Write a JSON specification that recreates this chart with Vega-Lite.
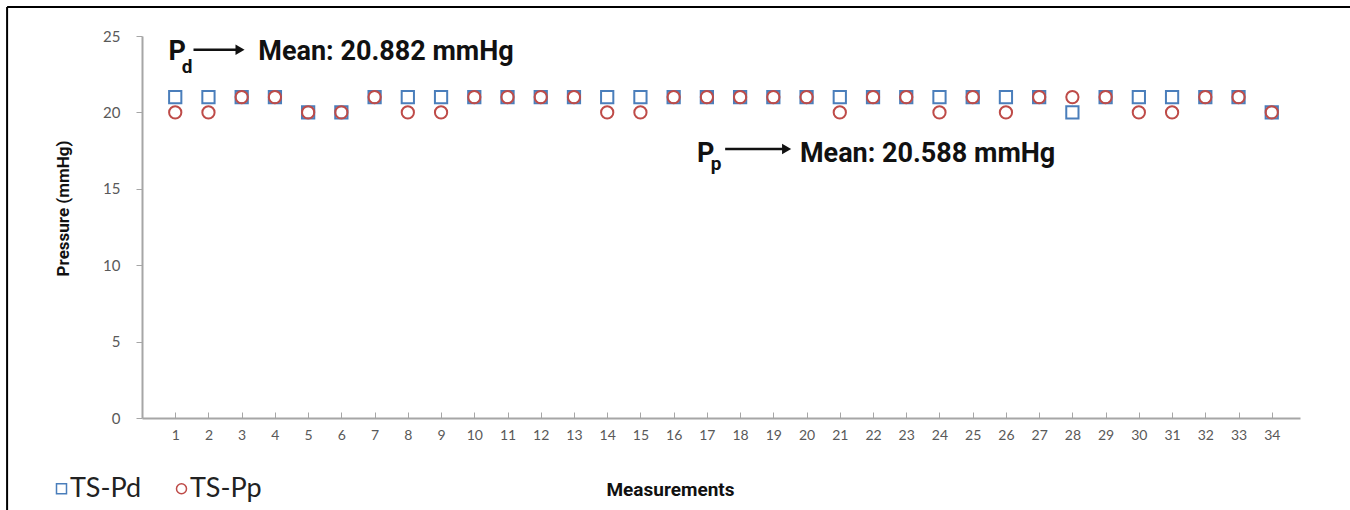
{
  "$schema": "https://vega.github.io/schema/vega-lite/v6.json",
  "width": 1158,
  "height": 382,
  "autosize": "none",
  "padding": {"left": 142, "top": 36, "right": 50, "bottom": 92},
  "background": "white",
  "config": {"view": {"stroke": null}, "axis": {"labelOverlap": false}},
  "layer": [
    {
      "data": {
        "values": [
          {"m": 1, "series": "TS-Pd", "v": 21}, {"m": 2, "series": "TS-Pd", "v": 21}, {"m": 3, "series": "TS-Pd", "v": 21}, {"m": 4, "series": "TS-Pd", "v": 21},
          {"m": 5, "series": "TS-Pd", "v": 20}, {"m": 6, "series": "TS-Pd", "v": 20}, {"m": 7, "series": "TS-Pd", "v": 21}, {"m": 8, "series": "TS-Pd", "v": 21},
          {"m": 9, "series": "TS-Pd", "v": 21}, {"m": 10, "series": "TS-Pd", "v": 21}, {"m": 11, "series": "TS-Pd", "v": 21}, {"m": 12, "series": "TS-Pd", "v": 21},
          {"m": 13, "series": "TS-Pd", "v": 21}, {"m": 14, "series": "TS-Pd", "v": 21}, {"m": 15, "series": "TS-Pd", "v": 21}, {"m": 16, "series": "TS-Pd", "v": 21},
          {"m": 17, "series": "TS-Pd", "v": 21}, {"m": 18, "series": "TS-Pd", "v": 21}, {"m": 19, "series": "TS-Pd", "v": 21}, {"m": 20, "series": "TS-Pd", "v": 21},
          {"m": 21, "series": "TS-Pd", "v": 21}, {"m": 22, "series": "TS-Pd", "v": 21}, {"m": 23, "series": "TS-Pd", "v": 21}, {"m": 24, "series": "TS-Pd", "v": 21},
          {"m": 25, "series": "TS-Pd", "v": 21}, {"m": 26, "series": "TS-Pd", "v": 21}, {"m": 27, "series": "TS-Pd", "v": 21}, {"m": 28, "series": "TS-Pd", "v": 20},
          {"m": 29, "series": "TS-Pd", "v": 21}, {"m": 30, "series": "TS-Pd", "v": 21}, {"m": 31, "series": "TS-Pd", "v": 21}, {"m": 32, "series": "TS-Pd", "v": 21},
          {"m": 33, "series": "TS-Pd", "v": 21}, {"m": 34, "series": "TS-Pd", "v": 20},
          {"m": 1, "series": "TS-Pp", "v": 20}, {"m": 2, "series": "TS-Pp", "v": 20}, {"m": 3, "series": "TS-Pp", "v": 21}, {"m": 4, "series": "TS-Pp", "v": 21},
          {"m": 5, "series": "TS-Pp", "v": 20}, {"m": 6, "series": "TS-Pp", "v": 20}, {"m": 7, "series": "TS-Pp", "v": 21}, {"m": 8, "series": "TS-Pp", "v": 20},
          {"m": 9, "series": "TS-Pp", "v": 20}, {"m": 10, "series": "TS-Pp", "v": 21}, {"m": 11, "series": "TS-Pp", "v": 21}, {"m": 12, "series": "TS-Pp", "v": 21},
          {"m": 13, "series": "TS-Pp", "v": 21}, {"m": 14, "series": "TS-Pp", "v": 20}, {"m": 15, "series": "TS-Pp", "v": 20}, {"m": 16, "series": "TS-Pp", "v": 21},
          {"m": 17, "series": "TS-Pp", "v": 21}, {"m": 18, "series": "TS-Pp", "v": 21}, {"m": 19, "series": "TS-Pp", "v": 21}, {"m": 20, "series": "TS-Pp", "v": 21},
          {"m": 21, "series": "TS-Pp", "v": 20}, {"m": 22, "series": "TS-Pp", "v": 21}, {"m": 23, "series": "TS-Pp", "v": 21}, {"m": 24, "series": "TS-Pp", "v": 20},
          {"m": 25, "series": "TS-Pp", "v": 21}, {"m": 26, "series": "TS-Pp", "v": 20}, {"m": 27, "series": "TS-Pp", "v": 21}, {"m": 28, "series": "TS-Pp", "v": 21},
          {"m": 29, "series": "TS-Pp", "v": 21}, {"m": 30, "series": "TS-Pp", "v": 20}, {"m": 31, "series": "TS-Pp", "v": 20}, {"m": 32, "series": "TS-Pp", "v": 21},
          {"m": 33, "series": "TS-Pp", "v": 21}, {"m": 34, "series": "TS-Pp", "v": 20}
        ]
      },
      "mark": {"type": "point", "filled": false, "strokeWidth": 2, "size": 150, "opacity": 1},
      "encoding": {
        "x": {
          "field": "m", "type": "quantitative",
          "scale": {"domain": [0, 34.85], "nice": false, "zero": false},
          "axis": {
            "values": [1,2,3,4,5,6,7,8,9,10,11,12,13,14,15,16,17,18,19,20,21,22,23,24,25,26,27,28,29,30,31,32,33,34],
            "tickCount": 60,
            "format": "d", "grid": false, "labelOverlap": false,
            "domainColor": "#a6a6a6", "domainWidth": 2,
            "tickColor": "#a6a6a6", "tickSize": -6, "tickWidth": 1,
            "labelFont": "Lato", "labelFontSize": 14, "labelColor": "#595959", "labelPadding": 16,
            "title": "Measurements", "titleFont": "Liberation Sans Narrow, Roboto", "titleFontWeight": "bold",
            "titleFontSize": 19, "titleColor": "#111", "titleX": 528, "titleY": 77, "titleAnchor": null, "titleAlign": "center", "titleBaseline": "alphabetic"
          }
        },
        "y": {
          "field": "v", "type": "quantitative",
          "scale": {"domain": [0, 25], "nice": false},
          "axis": {
            "values": [0, 5, 10, 15, 20, 25], "grid": false,
            "domainColor": "#a6a6a6", "domainWidth": 2,
            "tickColor": "#a6a6a6", "tickSize": 6, "tickWidth": 1,
            "labelFont": "Lato", "labelFontSize": 15, "labelColor": "#595959", "labelPadding": 16,
            "title": "Pressure (mmHg)", "titleFont": "Liberation Sans Narrow, Roboto", "titleFontWeight": "bold",
            "titleFontSize": 17, "titleColor": "#111", "titleX": -74, "titleY": 172, "titleAngle": -90, "titleAlign": "center", "titleBaseline": "alphabetic"
          }
        },
        "color": {
          "field": "series", "type": "nominal",
          "scale": {"domain": ["TS-Pd", "TS-Pp"], "range": ["#4a7ebb", "#be4b48"]},
          "legend": {
            "title": null, "orient": "none", "legendX": -94, "legendY": 439, "direction": "horizontal",
            "labelFont": "Lato", "labelFontSize": 27, "labelColor": "#222", "symbolSize": 100, "symbolStrokeWidth": 1.5,
            "columnPadding": 26, "labelOffset": -5
          }
        },
        "shape": {
          "field": "series", "type": "nominal",
          "scale": {"domain": ["TS-Pd", "TS-Pp"], "range": ["square", "circle"]}
        }
      }
    },
    {
      "data": {"values": [{}]},
      "mark": {"type": "text", "font": "Liberation Sans Narrow, Roboto", "fontWeight": "bold", "fontSize": 27, "align": "left", "baseline": "alphabetic", "color": "#111", "text": "P"},
      "encoding": {"x": {"datum": 0.8, "type": "quantitative"}, "y": {"datum": 23.4, "type": "quantitative"}}
    },
    {
      "data": {"values": [{}]},
      "mark": {"type": "text", "font": "Liberation Sans Narrow, Roboto", "fontWeight": "bold", "fontSize": 19, "align": "left", "baseline": "alphabetic", "color": "#111", "text": "d"},
      "encoding": {"x": {"datum": 1.2, "type": "quantitative"}, "y": {"datum": 22.55, "type": "quantitative"}}
    },
    {
      "data": {"values": [{}]},
      "mark": {"type": "rule", "strokeWidth": 2.5, "color": "#111"},
      "encoding": {"x": {"datum": 1.55, "type": "quantitative"}, "x2": {"datum": 2.95}, "y": {"datum": 24.1, "type": "quantitative"}}
    },
    {
      "data": {"values": [{}]},
      "mark": {"type": "point", "shape": "triangle-right", "filled": true, "size": 110, "color": "#111", "opacity": 1},
      "encoding": {"x": {"datum": 2.95, "type": "quantitative"}, "y": {"datum": 24.1, "type": "quantitative"}}
    },
    {
      "data": {"values": [{}]},
      "mark": {"type": "text", "font": "Liberation Sans Narrow, Roboto", "fontWeight": "bold", "fontSize": 27, "align": "left", "baseline": "alphabetic", "color": "#111", "text": "Mean: 20.882 mmHg"},
      "encoding": {"x": {"datum": 3.5, "type": "quantitative"}, "y": {"datum": 23.4, "type": "quantitative"}}
    },
    {
      "data": {"values": [{}]},
      "mark": {"type": "text", "font": "Liberation Sans Narrow, Roboto", "fontWeight": "bold", "fontSize": 27, "align": "left", "baseline": "alphabetic", "color": "#111", "text": "P"},
      "encoding": {"x": {"datum": 16.7, "type": "quantitative"}, "y": {"datum": 16.75, "type": "quantitative"}}
    },
    {
      "data": {"values": [{}]},
      "mark": {"type": "text", "font": "Liberation Sans Narrow, Roboto", "fontWeight": "bold", "fontSize": 19, "align": "left", "baseline": "alphabetic", "color": "#111", "text": "p"},
      "encoding": {"x": {"datum": 17.12, "type": "quantitative"}, "y": {"datum": 16.25, "type": "quantitative"}}
    },
    {
      "data": {"values": [{}]},
      "mark": {"type": "rule", "strokeWidth": 2.5, "color": "#111"},
      "encoding": {"x": {"datum": 17.55, "type": "quantitative"}, "x2": {"datum": 19.4}, "y": {"datum": 17.6, "type": "quantitative"}}
    },
    {
      "data": {"values": [{}]},
      "mark": {"type": "point", "shape": "triangle-right", "filled": true, "size": 110, "color": "#111", "opacity": 1},
      "encoding": {"x": {"datum": 19.4, "type": "quantitative"}, "y": {"datum": 17.6, "type": "quantitative"}}
    },
    {
      "data": {"values": [{}]},
      "mark": {"type": "text", "font": "Liberation Sans Narrow, Roboto", "fontWeight": "bold", "fontSize": 27, "align": "left", "baseline": "alphabetic", "color": "#111", "text": "Mean: 20.588 mmHg"},
      "encoding": {"x": {"datum": 19.8, "type": "quantitative"}, "y": {"datum": 16.75, "type": "quantitative"}}
    },
    {
      "data": {"values": [{}]},
      "mark": {"type": "rule", "strokeWidth": 2, "color": "#000"},
      "encoding": {"x": {"datum": -4.06, "type": "quantitative"}, "x2": {"datum": 36.4}, "y": {"datum": 26.9, "type": "quantitative"}}
    },
    {
      "data": {"values": [{}]},
      "mark": {"type": "rule", "strokeWidth": 2, "color": "#000"},
      "encoding": {"x": {"datum": -4.06, "type": "quantitative"}, "y": {"datum": 26.9, "type": "quantitative"}, "y2": {"datum": -6.1}}
    }
  ]
}
